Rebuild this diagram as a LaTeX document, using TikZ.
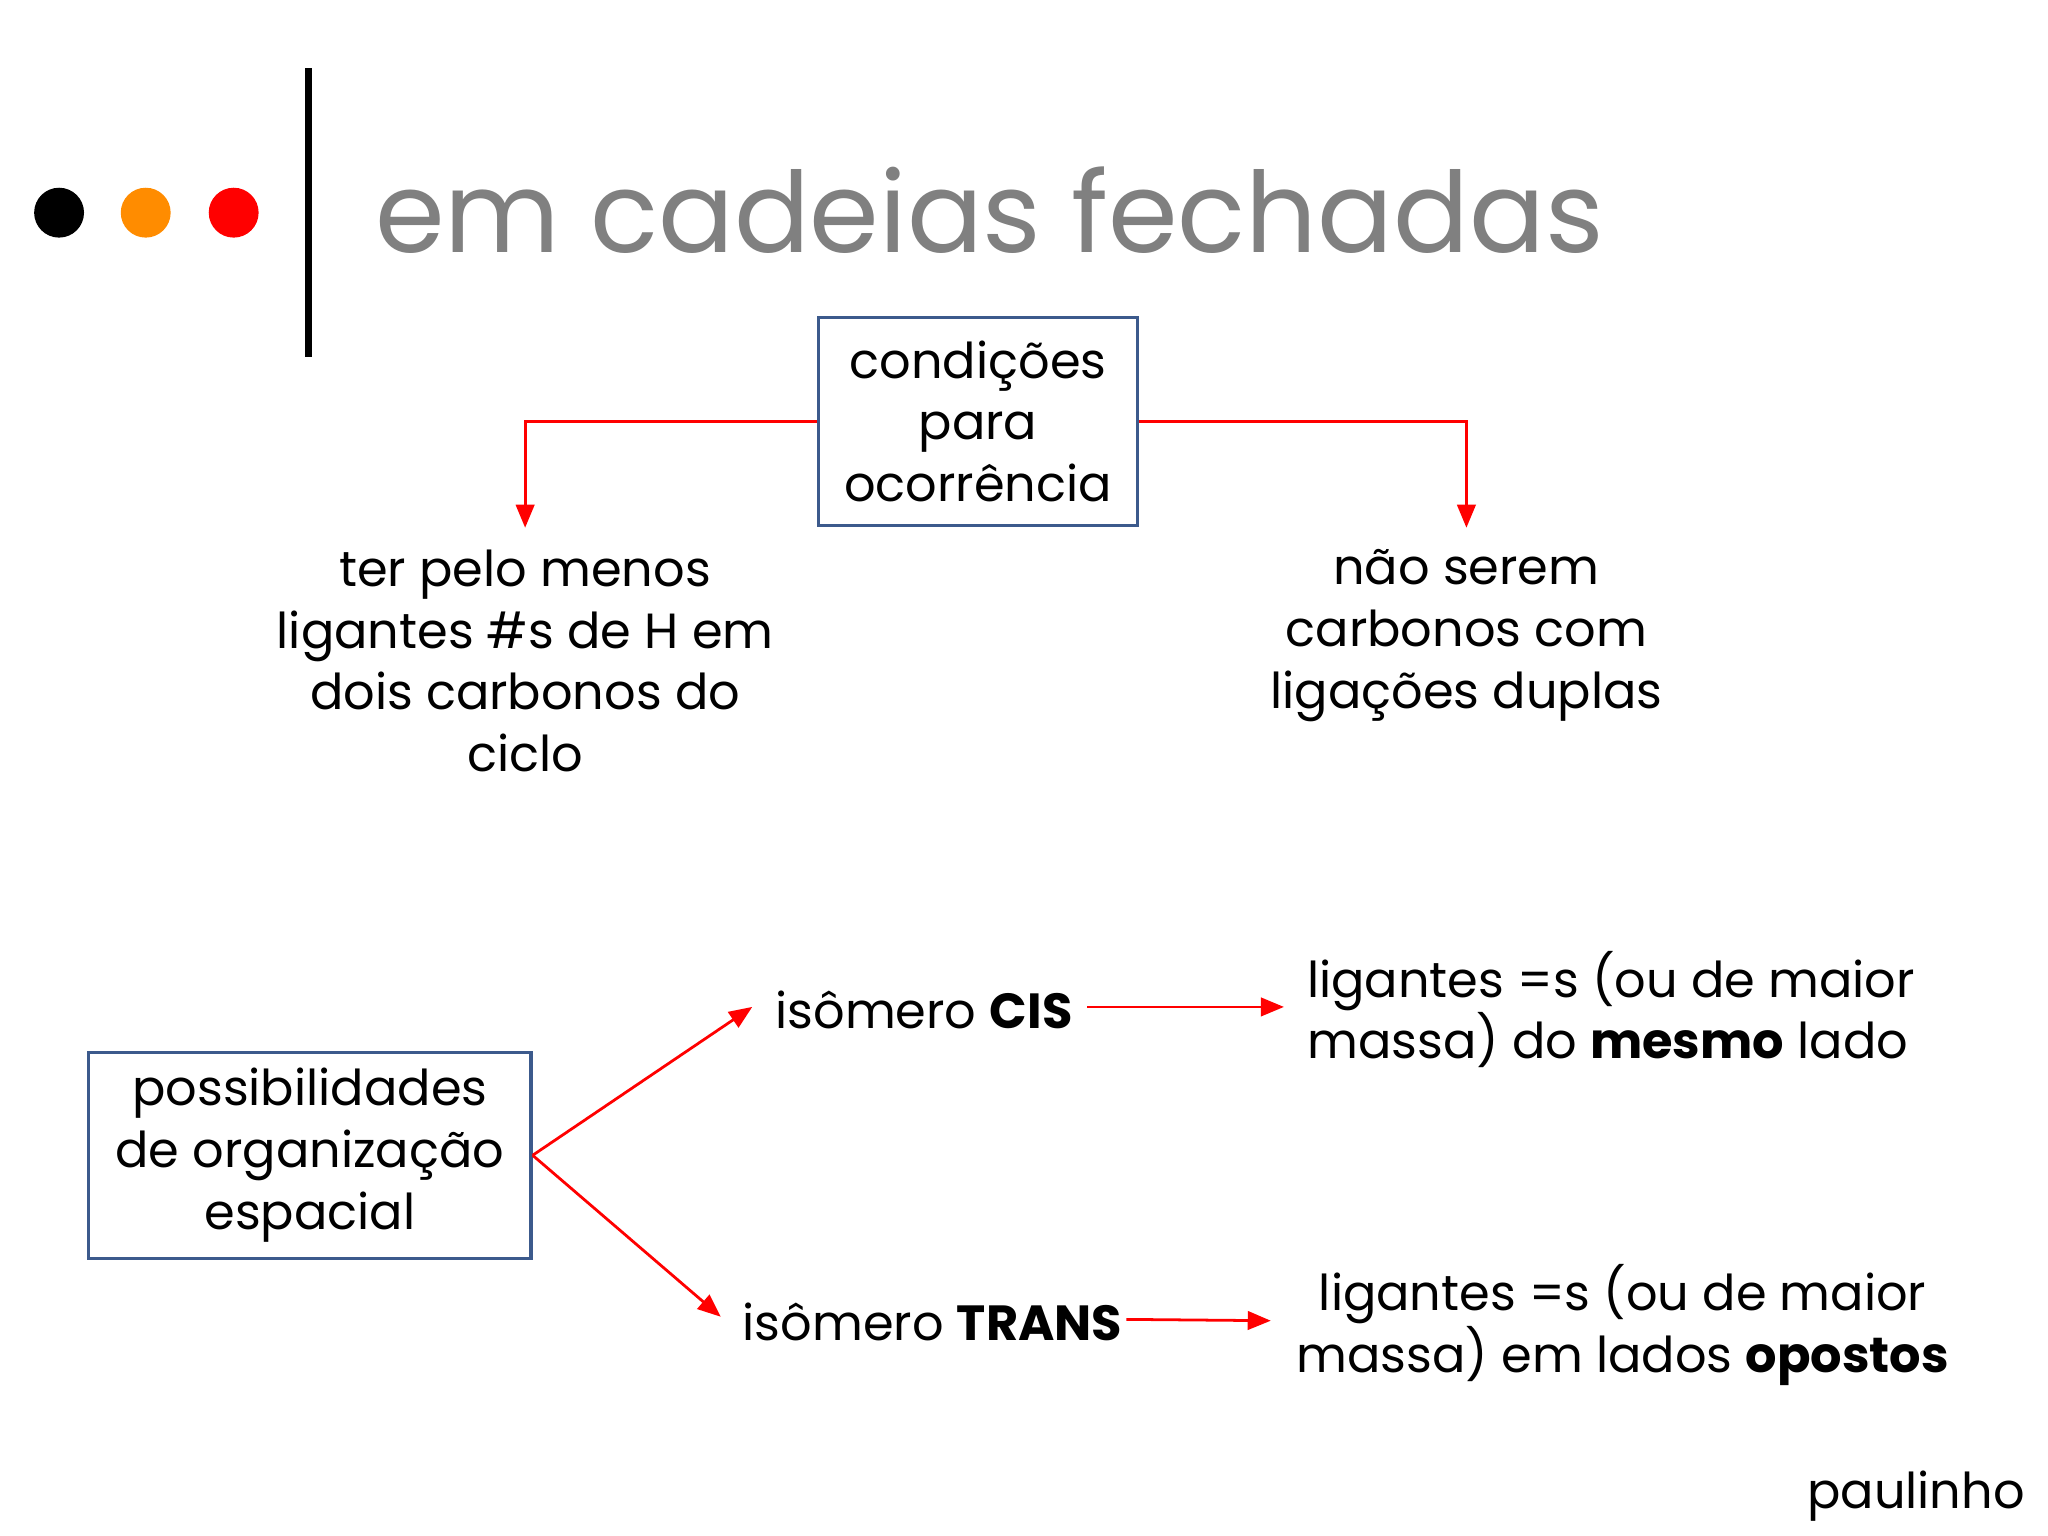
\documentclass[tikz,border=0pt]{standalone}
\usepackage{fontspec}
\setmainfont{Poppins}
\usetikzlibrary{arrows.meta}
\definecolor{boxc}{RGB}{60,90,140}
\begin{document}
\begin{tikzpicture}[x=0.01cm,y=-0.01cm,
  txt/.style={font=\fontsize{10.7}{13.4}\selectfont,align=center,inner sep=0pt},
  bx/.style={draw=boxc,line width=0.7pt,align=center,font=\fontsize{10.7}{13.4}\selectfont,inner sep=0pt},
  arr/.style={draw=red,line width=0.6pt,-{Triangle[length=5pt,width=4pt]}}]
\useasboundingbox (0,0) rectangle (1560,1170);
\fill[white] (0,0) rectangle (1560,1170);
\fill[black] (45,162) circle (19);
\fill[orange!90!yellow] (111,162) circle (19);
\fill[red] (178,162) circle (19);
\draw[line width=1.6pt] (235,52) -- (235,272);
\node[anchor=base west,inner sep=0pt,text=gray,font=\fontsize{24.3}{26}\selectfont] (title) at (285,192) {em cadeias fechadas};
\node[bx,minimum width=243*0.01cm,minimum height=158*0.01cm] (cond) at (745,321) {condições\\para\\ocorrência};
\coordinate (l) at (400,402);
\coordinate (r) at (1117,402);
\draw[arr] (cond.west) -| (l);
\draw[arr] (cond.east) -| (r);
\node[txt,anchor=north] (lt) at (400,418) {ter pelo menos\\ligantes \#s de H em\\dois carbonos do\\ciclo};
\node[txt,anchor=north] (rt) at (1117,418) {não serem\\carbonos com\\ligações duplas};
\node[bx,minimum width=337*0.01cm,minimum height=157*0.01cm] (pos) at (236,880) {possibilidades\\de organização\\espacial};
\node[txt,anchor=west] (cis) at (590,769) {isômero \textbf{CIS}};
\node[txt,anchor=west] (trans) at (565,1007) {isômero \textbf{TRANS}};
\coordinate (c1) at (573,767);
\coordinate (t1) at (549,1003);
\draw[arr] (pos.east) -- (c1);
\draw[arr] (pos.east) -- (t1);
\node[txt,anchor=west,align=left] (r1) at (995,769) {ligantes =s (ou de maior\\massa) do \textbf{mesmo} lado};
\node[txt] (r2) at (1236,1009) {ligantes =s (ou de maior\\massa) em lados \textbf{opostos}};
\coordinate (c2) at (828,767);
\coordinate (c3) at (978,767);
\coordinate (t2) at (858,1005);
\coordinate (t3) at (968,1006);
\draw[arr] (c2) -- (c3);
\draw[arr] (t2) -- (t3);
\node[txt,anchor=east] (p) at (1543,1140) {paulinho};
\end{tikzpicture}
\end{document}
